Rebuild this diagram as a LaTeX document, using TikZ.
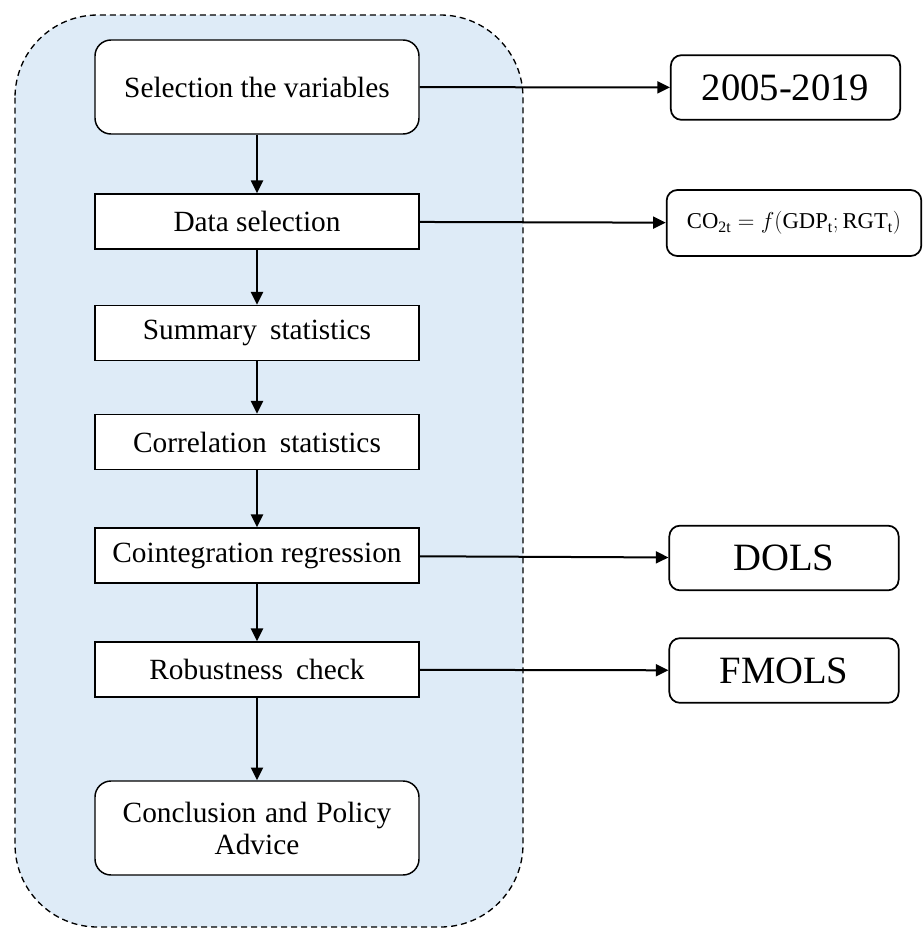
\documentclass[tikz,border=0pt]{standalone}
\usepackage{fontspec}
\setmainfont{Liberation Serif}
\usetikzlibrary{arrows.meta}
\definecolor{panel}{RGB}{222,235,247}
\begin{document}
\begin{tikzpicture}[x=0.75pt,y=-0.75pt,
  box/.style={draw, line width=1.1pt, fill=white, minimum width=243pt, minimum height=41.5pt, inner sep=0pt, font=\fontsize{22}{27}\selectfont, align=center},
  rbox/.style={box, rounded corners=12pt, minimum height=70.5pt},
  side/.style={draw, line width=1.3pt, fill=white, rounded corners=8pt, minimum width=172pt, minimum height=48.5pt, inner sep=0pt, font=\fontsize{29}{32}\selectfont},
  arr/.style={line width=1.5pt, -{Triangle[length=9.5pt,width=9pt]}}]
\useasboundingbox (0,0) rectangle (922,929);
\draw[dash pattern=on 4.5pt off 3pt, line width=1pt, fill=panel, rounded corners=62pt] (15,15) rectangle (523,927);
\node[rbox] (sel) at (257,87) {Selection the variables};
\node[box] (data) at (257,221.5) {Data selection};
\node[box] (summ) at (257,333) {Summary\hspace{0.45em}statistics};
\node[box] (corr) at (257,442) {Correlation\hspace{0.45em}statistics};
\node[box] (coin) at (257,555.5) {Cointegration regression};
\node[box] (rob) at (257,669.5) {Robustness\hspace{0.45em}check};
\node[rbox] (conc) at (257,828) {Conclusion\hspace{0.3em}and\hspace{0.3em}Policy\\[-3pt]Advice};
\node[side] (years) at (785.5,87.5) {2005-2019};
\node[side, minimum width=191pt, minimum height=49.5pt, font=\fontsize{17}{20}\selectfont] (form) at (794,223)
  {$\mathrm{CO}_{\mathrm{2t}} = f(\mathrm{GDP}_{\mathrm{t}};\mathrm{RGT}_{\mathrm{t}})$};
\node[side] (dols) at (784,558) {DOLS};
\node[side] (fmols) at (784,670.5) {FMOLS};
\draw[arr] (sel) -- (data);
\draw[arr] (data) -- (summ);
\draw[arr] (summ) -- (corr);
\draw[arr] (corr) -- (coin);
\draw[arr] (coin) -- (rob);
\draw[arr] (rob) -- (conc);
\draw[arr] (sel) -- (years);
\draw[arr] (data) -- (form);
\draw[arr] (coin) -- (dols);
\draw[arr] (rob) -- (fmols);
\end{tikzpicture}
\end{document}
